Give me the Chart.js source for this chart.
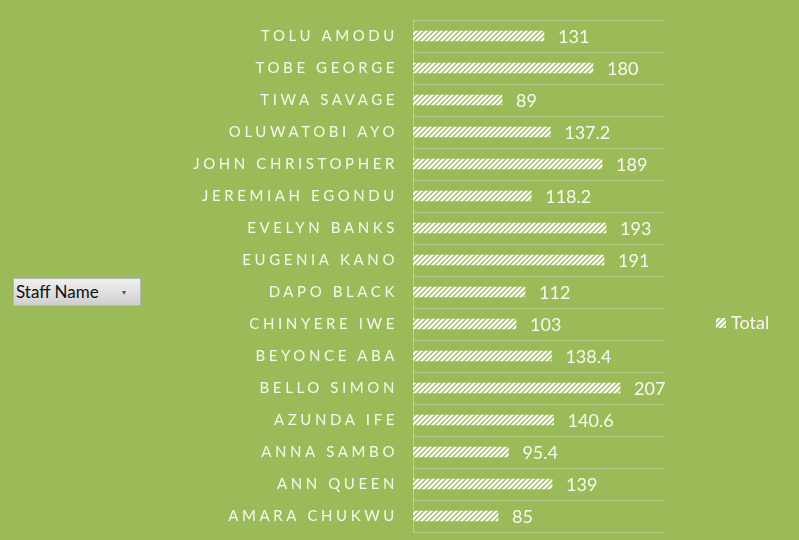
<!DOCTYPE html>
<html>
<head>
<meta charset="utf-8">
<script src="https://cdn.jsdelivr.net/npm/chart.js@4.4.1/dist/chart.umd.min.js"></script>
<style>
    html, body { margin: 0; padding: 0; background: #9bbb59; }
    #wrap { position: relative; width: 799px; height: 540px; }
    #staffBtn {
        position: absolute; left: 13px; top: 278px; width: 124px; height: 26px;
        background: linear-gradient(#f0f0f0, #cfcfcf); border: 1px solid #b5b5b5;
        font: 17px Lato, sans-serif; color: #111; line-height: 26px;
        padding-left: 2px; box-sizing: content-box;
    }
    #staffBtn span { position: absolute; left: 108px; top: 0; font-size: 8px; color: #555; }
</style>
</head>
<body>
<div id="wrap">
    <canvas id="myChart" width="799" height="540"></canvas>
    <div id="staffBtn">Staff Name<span>▾</span></div>
</div>
<script>
const staffNames = ["TOLU AMODU", "TOBE GEORGE", "TIWA SAVAGE", "OLUWATOBI AYO", "JOHN CHRISTOPHER",
    "JEREMIAH EGONDU", "EVELYN BANKS", "EUGENIA KANO", "DAPO BLACK", "CHINYERE IWE",
    "BEYONCE ABA", "BELLO SIMON", "AZUNDA IFE", "ANNA SAMBO", "ANN QUEEN", "AMARA CHUKWU"];
const totals = [131, 180, 89, 137.2, 189, 118.2, 193, 191, 112, 103, 138.4, 207, 140.6, 95.4, 139, 85];
const seriesName = "Total";

const green = "#9bbb59";

// white bars with thin green "/" stripes
function hatch() {
    const c = document.createElement("canvas");
    c.width = 5;
    c.height = 5;
    const g = c.getContext("2d");
    g.fillStyle = "#ffffff";
    g.fillRect(0, 0, 5, 5);
    g.strokeStyle = green;
    g.lineWidth = 1.3;
    g.beginPath();
    g.moveTo(-1, 6); g.lineTo(6, -1);
    g.moveTo(-1, 1); g.lineTo(1, -1);
    g.moveTo(4, 6); g.lineTo(6, 4);
    g.stroke();
    return g.createPattern(c, "repeat");
}

const spacing = {
    id: "spacing",
    beforeDraw(chart) {
        chart.ctx.letterSpacing = "3.6px";
    },
    beforeDatasetsDraw(chart) {
        chart.ctx.letterSpacing = "0px";
    },
};

const valueLabels = {
    id: "valueLabels",
    afterDatasetsDraw(chart) {
        const ctx = chart.ctx;
        const meta = chart.getDatasetMeta(0);
        ctx.save();
        ctx.fillStyle = "#f8f8f0";
        ctx.font = '18px Lato, sans-serif';
        ctx.textBaseline = "middle";
        meta.data.forEach((bar, i) => {
            ctx.fillText(String(totals[i]), bar.x + 14, bar.y + 1);
        });
        // legend
        ctx.fillStyle = hatch();
        ctx.fillRect(716, 318, 10, 10);
        ctx.fillStyle = "#f8f8f0";
        ctx.font = '18px Lato, sans-serif';
        ctx.fillText(seriesName, 731, 323);
        ctx.restore();
    },
};

const ctx = document.getElementById("myChart");
new Chart(ctx, {
    type: "bar",
    data: {
        labels: staffNames,
        datasets: [
            {
                label: seriesName,
                data: totals,
                backgroundColor: hatch(),
                borderWidth: 0,
                barThickness: 10,
            },
        ],
    },
    options: {
        indexAxis: "y",
        responsive: false,
        animation: false,
        layout: { padding: { left: 0, top: 20, right: 134, bottom: 8 } },
        plugins: {
            legend: { display: false },
            tooltip: { enabled: false },
        },
        scales: {
            x: {
                display: false,
                min: 0,
                max: 252,
            },
            y: {
                afterFit(scale) {
                    scale.width = 413;
                    scale.paddingTop = 0;
                    scale.paddingBottom = 0;
                },
                grid: {
                    color: "rgba(255,255,255,0.3)",
                    drawTicks: false,
                },
                border: { color: "rgba(255,255,255,0.35)" },
                ticks: {
                    color: "#f8f8f0",
                    padding: 15,
                    font: { family: "Lato", size: 15 },
                },
            },
        },
    },
    plugins: [spacing, valueLabels],
});
</script>
</body>
</html>
